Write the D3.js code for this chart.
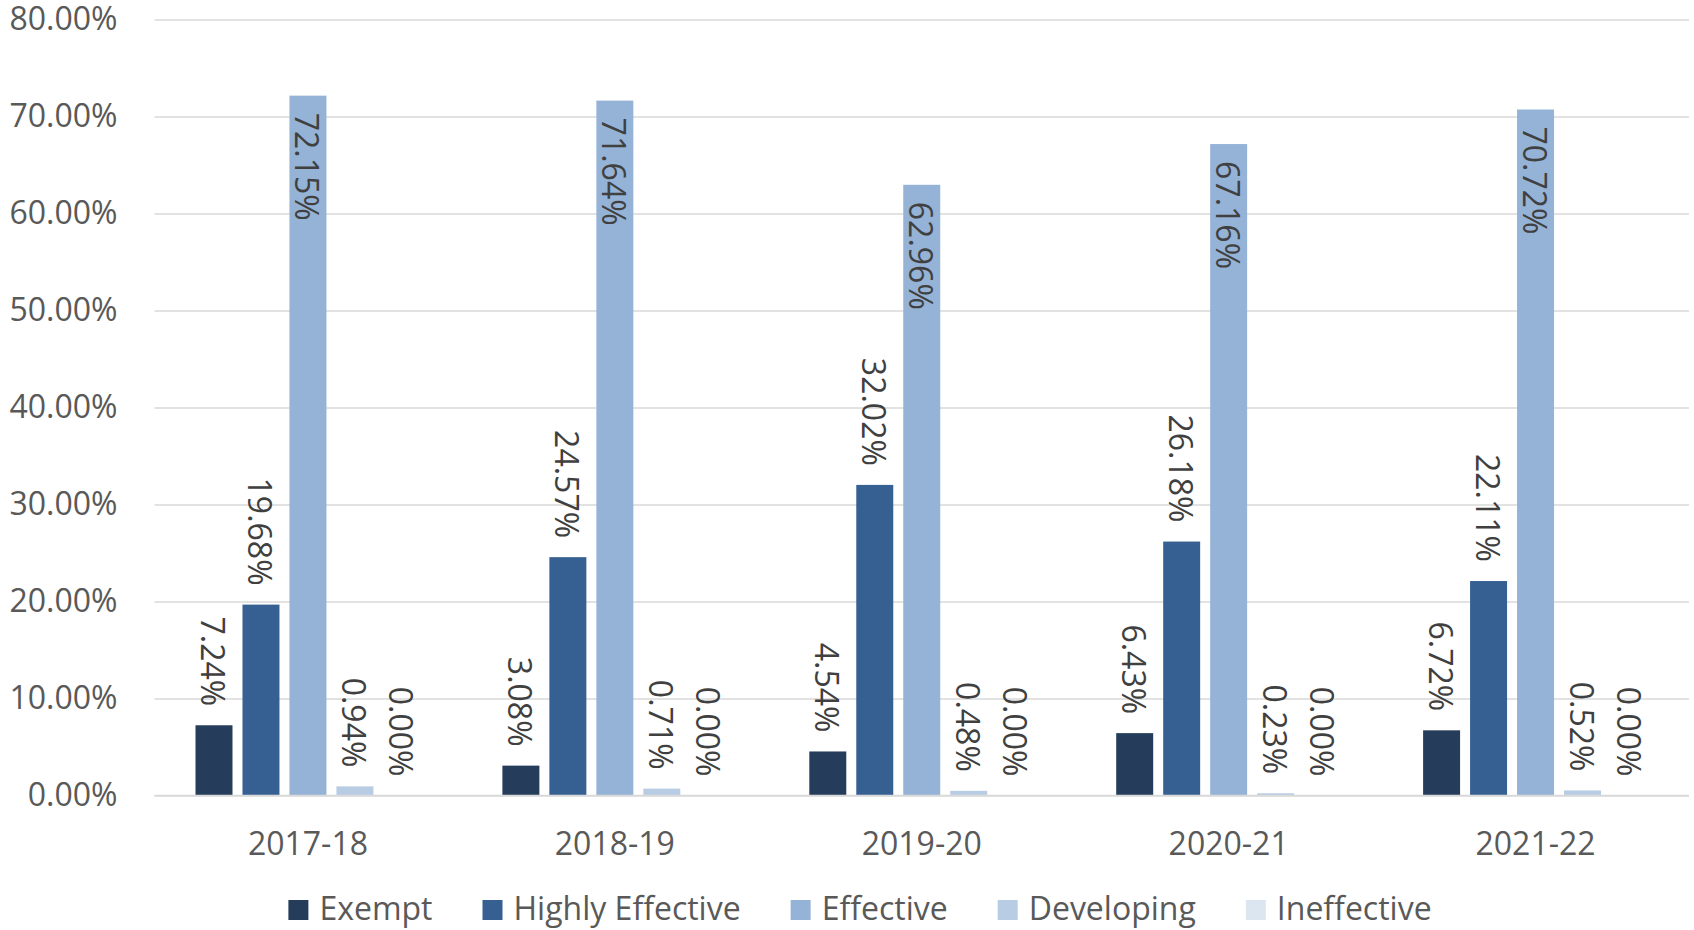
<!DOCTYPE html>
<html>
<head>
<meta charset="utf-8">
<script src="https://cdn.jsdelivr.net/npm/d3@7/dist/d3.min.js"></script>
<style>
html,body{margin:0;padding:0;background:#fff;}
svg{display:block;}
text{font-family:"Open Sans",sans-serif;}
</style>
</head>
<body>
<svg id="chart" width="1694" height="930"></svg>
<script>
const categories = ["2017-18","2018-19","2019-20","2020-21","2021-22"];
const seriesNames = ["Exempt","Highly Effective","Effective","Developing","Ineffective"];
const exempt = [7.24, 3.08, 4.54, 6.43, 6.72];
const highlyEffective = [19.68, 24.57, 32.02, 26.18, 22.11];
const effective = [72.15, 71.64, 62.96, 67.16, 70.72];
const developing = [0.94, 0.71, 0.48, 0.23, 0.52];
const ineffective = [0.00, 0.00, 0.00, 0.00, 0.00];
const yTicks = [0, 10, 20, 30, 40, 50, 60, 70, 80];

(function(){
const seriesValues = [exempt, highlyEffective, effective, developing, ineffective];
const colors = ["#253D5B", "#366092", "#95B3D7", "#B8CCE4", "#DCE6F1"];
const insideLabel = [false, false, true, false, false];

const svg = d3.select("#chart");
const pLeft = 154.5, pRight = 1689, pTop = 19.5, pBottom = 795.5;

const y = d3.scaleLinear().domain([0, 80]).range([pBottom, pTop]);
const x0 = d3.scaleBand().domain(categories).range([pLeft, pRight]).paddingInner(0).paddingOuter(0);
const groupPad = 41;
const x1 = d3.scaleBand().domain(seriesNames).range([groupPad, x0.bandwidth() - groupPad]).paddingInner(10/47).paddingOuter(0);

// gridlines
const yAxis = d3.axisLeft(y).tickValues(yTicks).tickSize(-(pRight - pLeft)).tickFormat(d => d.toFixed(2) + "%");
const ga = svg.append("g").attr("transform", `translate(${pLeft},0)`).call(yAxis);
ga.select(".domain").remove();
ga.selectAll(".tick line").attr("stroke", "#d9d9d9").attr("stroke-width", 1.5);
ga.selectAll(".tick text").attr("x", -37).attr("fill", "#595959").attr("font-size", 32).attr("font-family", "Open Sans");

// bars
const groups = svg.append("g").selectAll("g").data(categories).join("g")
  .attr("transform", d => `translate(${x0(d)},0)`);

groups.each(function(cat, ci) {
  const g = d3.select(this);
  seriesNames.forEach((s, si) => {
    const v = seriesValues[si][ci];
    const bx = x1(s), bw = x1.bandwidth();
    g.append("rect")
      .attr("x", bx).attr("width", bw)
      .attr("y", y(v)).attr("height", Math.max(0, y(0) - y(v)))
      .attr("fill", colors[si]);
    const cx = bx + bw / 2;
    const t = g.append("text")
      .attr("font-size", 32).attr("fill", "#404040")
      .attr("dominant-baseline", "central")
      .text(v.toFixed(2) + "%");
    if (insideLabel[si]) {
      t.attr("text-anchor", "start")
       .attr("transform", `translate(${cx},${y(v) + 17}) rotate(90)`);
    } else {
      t.attr("text-anchor", "end")
       .attr("transform", `translate(${cx},${y(v) - 19}) rotate(90)`);
    }
  });
});

// x axis baseline
svg.append("line").attr("x1", pLeft).attr("x2", pRight).attr("y1", y(0)).attr("y2", y(0))
  .attr("stroke", "#d9d9d9").attr("stroke-width", 1.5);

// x labels
const xAxis = d3.axisBottom(x0).tickSize(0).tickPadding(0);
const gx = svg.append("g").attr("transform", `translate(0,${pBottom})`).call(xAxis);
gx.select(".domain").remove();
gx.selectAll(".tick text").attr("y", 0).attr("dy", 0)
  .attr("transform", "translate(0,59)")
  .attr("fill", "#595959").attr("font-size", 32).attr("font-family", "Open Sans");

// legend
const legend = svg.append("g");
let lx = 0;
const itemGap = 50;
seriesNames.forEach((s, i) => {
  const it = legend.append("g").attr("transform", `translate(${lx},0)`);
  it.append("rect").attr("x", 0).attr("y", 900).attr("width", 20).attr("height", 20).attr("fill", colors[i]);
  const tt = it.append("text").attr("x", 31).attr("y", 920).attr("font-size", 32).attr("fill", "#595959").text(s);
  lx += 31 + tt.node().getComputedTextLength() + itemGap;
});
const totalW = lx - itemGap;
legend.attr("transform", `translate(${860 - totalW / 2},0)`);
})();
</script>
</body>
</html>
